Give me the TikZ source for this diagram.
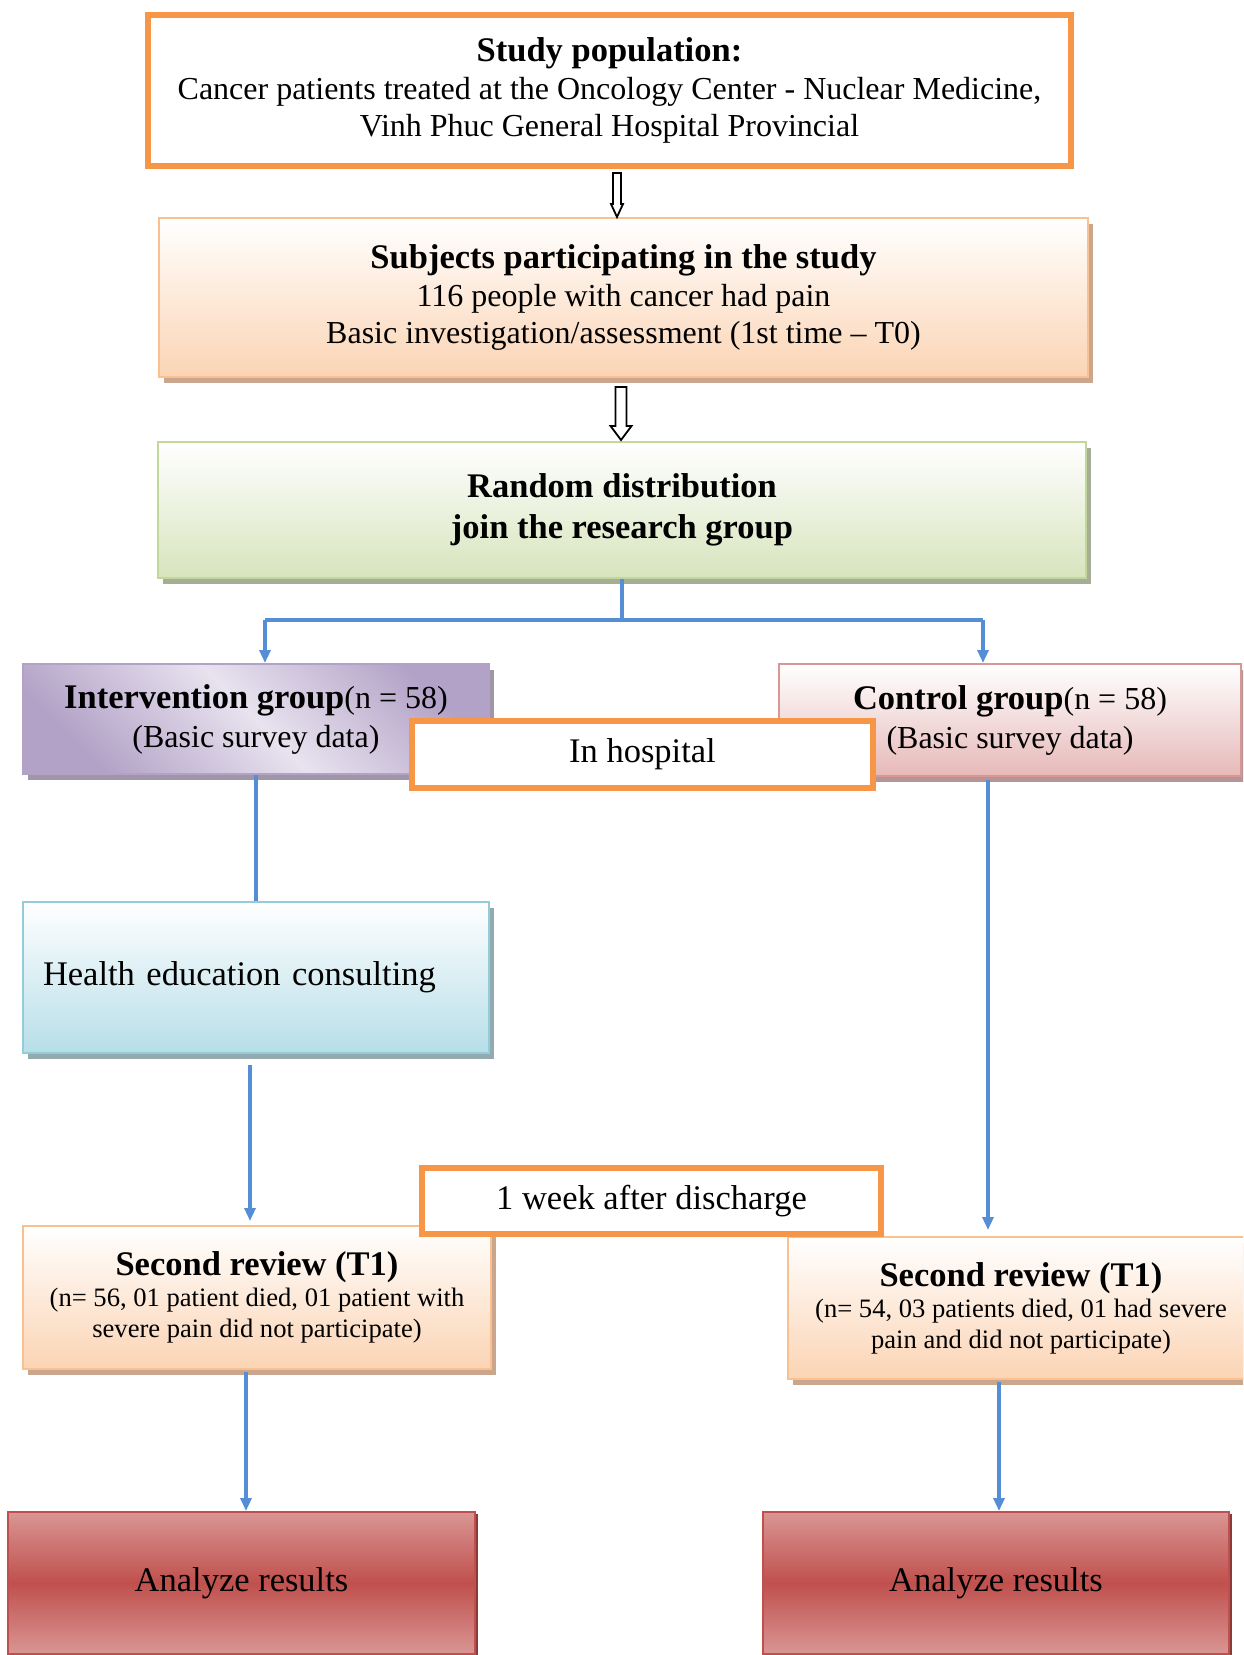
\documentclass[tikz,border=0pt]{standalone}
\usepackage{fontspec}
\setmainfont{Liberation Serif}
\usetikzlibrary{arrows.meta,shadows,calc}
\definecolor{orng}{HTML}{F79646}
\definecolor{peachline}{HTML}{FAC090}
\definecolor{peachfill}{HTML}{FBD4B4}
\definecolor{peachshadow}{HTML}{C9A68C}
\definecolor{greenline}{HTML}{C3D69B}
\definecolor{greenfill}{HTML}{D7E4BD}
\definecolor{greenshadow}{HTML}{A5AD94}
\definecolor{purpdark}{HTML}{B3A2C7}
\definecolor{purplight}{HTML}{E8E3EF}
\definecolor{purpshadow}{HTML}{9F96A8}
\definecolor{pinkline}{HTML}{D99694}
\definecolor{pinkfill}{HTML}{E6B9B8}
\definecolor{pinkshadow}{HTML}{B49494}
\definecolor{blueline}{HTML}{93CDDD}
\definecolor{bluefill}{HTML}{B7DEE8}
\definecolor{blueshadow}{HTML}{93AAAE}
\definecolor{redlight}{HTML}{D99694}
\definecolor{redmid}{HTML}{C0504D}
\definecolor{redshadow}{HTML}{8C3A38}
\definecolor{flowblue}{HTML}{558ED5}
\newcommand{\boxhead}[1]{{\fontsize{17.25}{19.5}\selectfont\bfseries #1}}

\begin{document}
\begin{tikzpicture}[x=0.5pt, y=-0.5pt,
	main/.style = {draw, rectangle, inner sep=0pt, align=center, line width=1pt, font=\fontsize{17.25}{19.5}\selectfont},
	frame/.style = {main, draw=orng, line width=3pt, fill=white},
	peach/.style = {main, draw=peachline, top color=white, bottom color=peachfill, drop shadow={shadow xshift=2.5pt, shadow yshift=-3pt, fill=peachshadow, opacity=1}},
	green/.style = {main, draw=greenline, top color=white, bottom color=greenfill, drop shadow={shadow xshift=2.5pt, shadow yshift=-3pt, fill=greenshadow, opacity=1}},
	purp/.style = {main, draw=purpdark, top color=purpdark, bottom color=purpdark, middle color=purplight, shading angle=-45, drop shadow={shadow xshift=2.5pt, shadow yshift=-3pt, fill=purpshadow, opacity=1}},
	pink/.style = {main, draw=pinkline, top color=white, bottom color=pinkfill, drop shadow={shadow xshift=2.5pt, shadow yshift=-3pt, fill=pinkshadow, opacity=1}},
	cyan/.style = {main, draw=blueline, top color=white, bottom color=bluefill, drop shadow={shadow xshift=2.5pt, shadow yshift=-3pt, fill=blueshadow, opacity=1}},
	result/.style = {main, draw=redmid, top color=redlight, bottom color=redlight, middle color=redmid, drop shadow={shadow xshift=1.5pt, shadow yshift=-1pt, fill=redshadow, opacity=1}},
	flow/.style = {draw=flowblue, line width=1.6pt},
	tip/.style = {flow, -{Triangle[length=6.5pt, width=5.5pt]}},
	hollow/.style = {draw, line width=0.9pt, fill=white}]
			\path[use as bounding box] (0,0) rectangle (1243,1655);
			\clip (0,0) rectangle (1243,1655);
			\fill[white] (0,0) rectangle (1243,1655);
			\node[frame, minimum width=461.5pt, minimum height=75.5pt, font=\fontsize{16}{18.75}\selectfont] (1) at (609.5,90.5) {\boxhead{Study population:}\\Cancer patients treated at the Oncology Center - Nuclear Medicine,\\Vinh Phuc General Hospital Provincial};
			\node[peach, minimum width=464.5pt, minimum height=79.5pt, font=\fontsize{16}{18.75}\selectfont] (2) at (623.5,297.5) {\boxhead{Subjects participating in the study}\\116 people with cancer had pain\\Basic investigation/assessment (1st time – T0)};
			\node[green, minimum width=464pt, minimum height=68pt, font=\fontsize{17.25}{20.5}\selectfont] (3) at (622,510) {\textbf{Random distribution}\\\textbf{join the research group}};
			\node[purp, minimum width=233pt, minimum height=55pt, font=\fontsize{16}{19.5}\selectfont] (4) at (256,719) {\boxhead{Intervention group}(n = 58)\\(Basic survey data)};
			\node[pink, minimum width=231pt, minimum height=56pt, font=\fontsize{16}{19.5}\selectfont] (5) at (1010,720) {\boxhead{Control group}(n = 58)\\(Basic survey data)};
			\node[cyan, minimum width=233pt, minimum height=75.5pt, text width=213pt, align=left] (6) at (256,977) {Health education consulting};
			\node[peach, minimum width=234pt, minimum height=71.5pt, font=\fontsize{13.3}{15.5}\selectfont] (8) at (257,1297.5) {\boxhead{Second review (T1)}\\(n= 56, 01 patient died, 01 patient with\\severe pain did not participate)};
			\node[peach, minimum width=233pt, minimum height=71pt, font=\fontsize{13.3}{15.5}\selectfont] (9) at (1021,1308) {\boxhead{Second review (T1)}\\(n= 54, 03 patients died, 01 had severe\\pain and did not participate)};
			\node[result, minimum width=233.5pt, minimum height=71pt] (11) at (241.5,1583) {Analyze results};
			\node[result, minimum width=233pt, minimum height=71pt] (12) at (996,1583) {Analyze results};
			\node[frame, minimum width=230.5pt, minimum height=33.5pt] (7) at (642.5,754.5) {In hospital};
			\node[frame, minimum width=229.5pt, minimum height=33pt] (10) at (651.5,1201) {1 week after discharge};
			\coordinate (l) at (265,620);
			\coordinate (r) at (983,620);
			\draw[hollow] ($(1.south)+(3.5,4)$) -- ++(0,31) -- ++(-2,0) -- ++(6,13) -- ++(6,-13) -- ++(-2,0) -- ++(0,-31) -- cycle;
			\draw[hollow] ($(2.south)+(-8,9)$) -- ++(0,39) -- ++(-5,0) -- ++(10.5,14) -- ++(10.5,-14) -- ++(-5,0) -- ++(0,-39) -- cycle;
			\draw[flow] (3.south) -- (3.south |- l);
			\draw[flow] (l) -- (r);
			\draw[tip] (l) -- (l |- 4.north);
			\draw[tip] (r) -- (r |- 5.north);
			\draw[flow] (4) -- (6);
			\draw[tip] ([xshift=-3pt,yshift=-5.5pt]6.south) -- ([xshift=-3.5pt,yshift=2pt]8.north);
			\draw[tip] ([xshift=-5.5pt,yshift=-1pt]8.south) -- ([xshift=-5.5pt]8.south |- 11.north);
			\draw[tip] ([xshift=-11pt,yshift=-1.5pt]5.south) -- ([xshift=-11pt,yshift=3pt]5.south |- 9.north);
			\draw[tip] ([xshift=-11pt,yshift=-1pt]9.south) -- ([xshift=-11pt]9.south |- 12.north);
		\end{tikzpicture}
\end{document}
